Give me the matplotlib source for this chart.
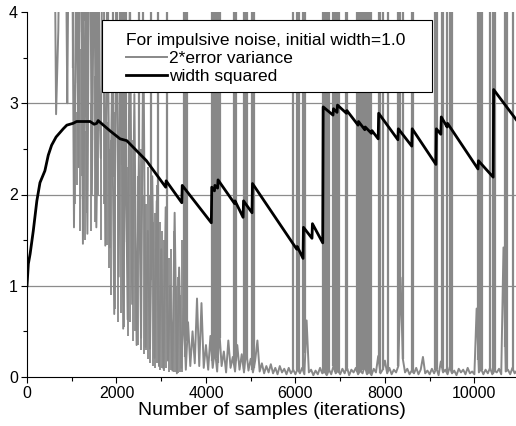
import matplotlib
matplotlib.use('Agg')
import matplotlib.pyplot as plt
from matplotlib.patches import Rectangle
from matplotlib.ticker import MultipleLocator
import numpy as np

plt.rcParams['font.family'] = ['Liberation Sans', 'DejaVu Sans']

# 2*error variance, read every 50 iterations (values > 4 leave the plot)
err_var = [
    # 0 - 950
    6.0, 6.0, 6.0, 6.0, 6.0, 6.0, 6.0, 6.0, 6.0, 6.0,
    6.0, 6.0, 6.0, 2.88, 3.8, 6.0, 6.0, 6.0, 3.0, 6.0,
    # 1000 - 1950
    6.0, 1.64, 4.6, 2.3, 6.0, 1.46, 3.9, 1.57, 6.0, 2.0,
    5.0, 1.64, 3.4, 2.4, 6.0, 1.44, 4.2, 1.42, 3.2, 0.69,
    # 2000 - 2950
    4.5, 1.1, 5.0, 0.53, 2.9, 0.63, 4.4, 0.8, 3.1, 0.35,
    2.4, 0.43, 3.9, 0.33, 1.6, 0.31, 2.2, 0.21, 1.93, 0.12,
    # 3000 - 3950
    1.4, 0.09, 1.86, 0.18, 1.0, 0.07, 1.8, 0.04, 1.2, 0.10,
    0.75, 0.08, 0.6, 0.12, 0.5, 0.15, 0.86, 0.12, 0.81, 0.10,
    # 4000 - 4950
    0.35, 0.08, 0.45, 0.10, 0.30, 0.06, 0.50, 0.12, 0.28, 0.05,
    0.40, 0.10, 0.22, 0.06, 0.35, 0.08, 0.25, 0.05, 0.30, 0.07,
    # 5000 - 5950
    0.20, 0.05, 0.18, 0.40, 0.06, 0.15, 0.04, 0.12, 0.05, 0.14,
    0.04, 0.10, 0.03, 0.12, 0.05, 0.09, 0.03, 0.10, 0.04, 0.08,
    # 6000 - 6950
    0.03, 0.09, 0.04, 0.10, 0.03, 0.62, 0.05, 0.08, 0.02, 0.07,
    0.03, 0.10, 0.04, 0.06, 0.02, 0.08, 0.03, 0.12, 0.04, 0.07,
    # 7000 - 7950
    0.03, 0.09, 0.04, 0.11, 0.02, 0.08, 0.05, 0.10, 0.03, 0.07,
    0.04, 0.12, 0.03, 0.06, 0.02, 0.09, 0.05, 0.23, 0.04, 0.08,
    # 8000 - 8950
    0.18, 0.04, 0.10, 0.03, 0.08, 0.05, 0.12, 1.09, 0.20, 0.05,
    0.09, 0.03, 0.07, 0.04, 0.10, 0.03, 0.08, 0.22, 0.04, 0.07,
    # 9000 - 9950
    0.03, 0.09, 0.04, 0.10, 0.02, 0.17, 0.05, 0.08, 0.03, 0.11,
    0.04, 0.07, 0.02, 0.09, 0.05, 0.08, 0.03, 0.10, 0.04, 0.06,
    # 10000 - 11000
    0.03, 0.75, 0.05, 0.09, 0.03, 0.08, 0.04, 0.10, 0.03, 0.07,
    0.05, 0.09, 0.03, 1.42, 0.06, 0.08, 0.03, 0.10, 0.04, 0.07,
    0.05,
]

# short bursts inside the noisy stretch: iteration, low and high value
burst_iters = [1070, 1110, 1190, 1230, 1290, 1330, 1440, 1520, 1590, 1660,
               1720, 1780, 1830, 1880, 1960, 2040, 2110, 2160, 2260, 2310,
               2370, 2420, 2480, 2540, 2620, 2660, 2700, 2740, 2820, 2860,
               2910, 2980, 3020, 3060, 3110, 3170, 3220, 3280, 3320, 3370,
               3430, 3470]
burst_lows = [1.9, 2.1, 1.6, 2.2, 1.5, 1.8, 1.6, 1.7, 2.0, 1.5,
              1.9, 1.45, 1.2, 0.9, 0.75, 0.6, 0.7, 0.55, 0.45, 0.6,
              0.4, 0.5, 0.35, 0.3, 0.25, 0.3, 0.2, 0.15, 0.12, 0.1,
              0.15, 0.08, 0.1, 0.07, 0.1, 0.05, 0.08, 0.05, 0.06, 0.04,
              0.05, 0.06]
burst_tops = [3.2, 2.9, 3.6, 3.4, 2.7, 2.9, 3.0, 3.3, 2.8, 3.1,
              3.3, 2.8, 2.5, 2.6, 2.9, 2.7, 3.0, 2.4, 2.3, 2.8,
              2.6, 2.1, 2.2, 2.5, 2.0, 1.9, 2.3, 2.0, 1.7, 1.8,
              2.1, 1.7, 1.6, 1.5, 1.2, 1.3, 1.4, 1.6, 1.0, 1.1,
              0.9, 1.5]

# iterations where an impulse sends the error variance off the top
spike_iters = [1030, 1130, 1170, 1260, 1300, 1340, 1380, 1420, 1460, 1500,
               1540, 1580, 1620, 1780, 1810, 1920, 2020, 2070, 2130, 2170,
               2220, 2500, 2590, 2770, 2930, 3130, 3500, 3540, 3580, 4140,
               4180, 4220, 4260, 4310, 4620, 4670, 4840, 4890, 4920, 5040,
               5070, 5950, 6040, 6090, 6170, 6220, 6620, 6660, 6700, 6740,
               6850, 6890, 6930, 6980, 7120, 7150, 7380, 7420, 7460, 7520,
               7560, 7600, 7640, 7690, 7860, 7900, 7950, 8070, 8300, 8330,
               8400, 8610, 8630, 9130, 9160, 9280, 9300, 9390, 9460, 9500,
               10090, 10130, 10160, 10360, 10410, 10450, 10690, 10730, 10860]

# width squared
width_iters = [0, 30, 70, 140, 220, 290, 400, 475, 550, 650, 810, 890, 1030,
               1110, 1410, 1500, 1560, 1590, 1850, 2080, 2230, 2670, 3100,
               3110, 3460, 3470, 4120, 4130, 4190, 4200, 4260, 4270, 4640,
               4650, 4830, 4840, 5030, 5040, 6030, 6040, 6170, 6180, 6370,
               6380, 6610, 6620, 6840, 6850, 6930, 6940, 7140, 7150, 7400,
               7410, 7550, 7560, 7700, 7710, 7850, 7860, 8290, 8300, 8600,
               8610, 9140, 9150, 9250, 9260, 9390, 9400, 10080, 10090, 10420,
               10430, 10950]
width_sq = [1.00, 1.24, 1.35, 1.60, 1.93, 2.13, 2.26, 2.43, 2.54, 2.63, 2.72,
            2.76, 2.78, 2.80, 2.80, 2.77, 2.78, 2.81, 2.70, 2.61, 2.59, 2.37,
            2.08, 2.15, 1.91, 2.10, 1.69, 2.08, 2.04, 2.10, 2.07, 2.16, 1.90,
            1.93, 1.75, 1.93, 1.80, 2.12, 1.40, 1.43, 1.30, 1.64, 1.52, 1.68,
            1.47, 2.96, 2.87, 2.94, 2.90, 2.98, 2.89, 2.92, 2.76, 2.80, 2.71,
            2.74, 2.67, 2.70, 2.61, 2.89, 2.60, 2.72, 2.53, 2.72, 2.33, 2.72,
            2.66, 2.85, 2.74, 2.78, 2.28, 2.37, 2.19, 3.15, 2.81]

grid_levels = [1, 2, 3]
gray = '#888888'

err_iters = np.arange(0, 11001, 50)

fig = plt.figure(figsize=(5.16, 4.26), dpi=100)
ax = fig.add_axes([27 / 516, 1 - 377 / 426, 489 / 516, 365 / 426])

ax.hlines(grid_levels, 0, 11000, color='#8c8c8c', lw=0.9, zorder=1)

ax.plot(err_iters, err_var, color=gray, lw=1.4, zorder=2,
        label='2*error variance')
ax.vlines(burst_iters, burst_lows, burst_tops, color=gray, lw=1.3, zorder=2)
spike_base = np.interp(spike_iters, err_iters, err_var)
ax.vlines(spike_iters, spike_base, 4.5, color=gray, lw=1.6, zorder=2)
ax.plot(width_iters, width_sq, color='black', lw=2.0, zorder=3,
        label='width squared')

ax.set_xlim(0, 10930)
ax.set_ylim(0, 4)
ax.xaxis.set_major_locator(MultipleLocator(2000))
ax.xaxis.set_minor_locator(MultipleLocator(1000))
ax.yaxis.set_major_locator(MultipleLocator(1))
ax.yaxis.set_minor_locator(MultipleLocator(0.5))
ax.tick_params(which='both', direction='out', labelsize=11.5, width=0.8,
               top=False, right=False)
ax.tick_params(which='major', length=4.5, pad=2)
ax.tick_params(which='minor', length=3)
ax.spines['top'].set_visible(False)
ax.spines['right'].set_visible(False)
ax.set_xlabel('Number of samples (iterations)', fontsize=14, labelpad=1)

# legend box: white panel with a thin black edge, contents inset
ax.add_patch(Rectangle((0.1534, 0.7808), 0.6748, 0.1973, transform=ax.transAxes,
                       facecolor='white', edgecolor='black', lw=0.8,
                       zorder=4, clip_on=False))
leg = ax.legend(title='For impulsive noise, initial width=1.0',
                loc='upper left', bbox_to_anchor=(0.2025, 0.942),
                borderaxespad=0, borderpad=0, frameon=False,
                fontsize=12.5, title_fontsize=12.5,
                handlelength=2.35, handletextpad=0.15, labelspacing=0.15,
                alignment='left')
leg.set_zorder(5)

fig.savefig('out.png', dpi=100)
